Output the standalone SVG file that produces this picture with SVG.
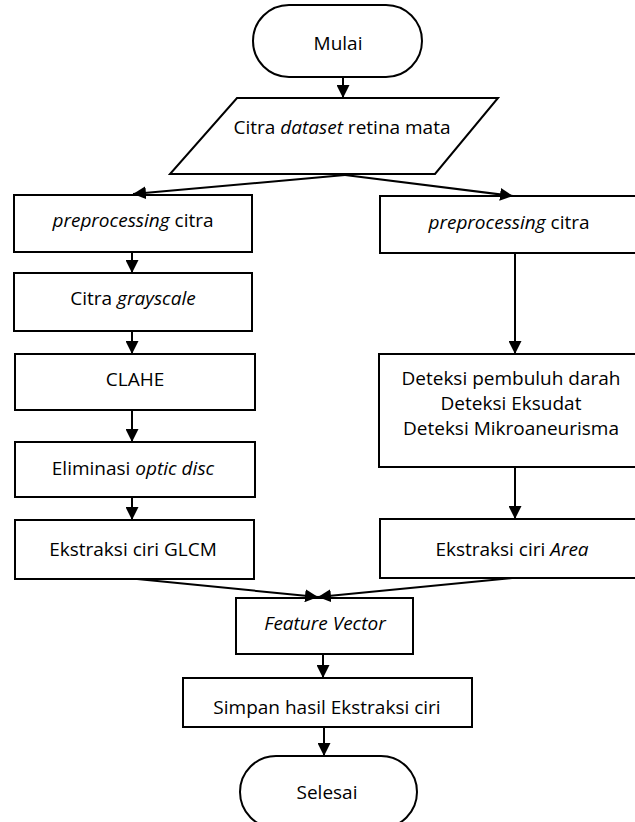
<svg xmlns="http://www.w3.org/2000/svg" width="635" height="822" viewBox="0 0 635 822">
<style>
.s{fill:#fff;stroke:#000;stroke-width:2}
.t{font-family:"Open Sans","Liberation Sans",sans-serif;font-size:19px;fill:#000;text-anchor:middle}
.i{font-style:italic}
.c{fill:none;stroke:#000;stroke-width:2;marker-end:url(#ah)}
</style>
<defs>
<marker id="ah" markerUnits="userSpaceOnUse" markerWidth="13" markerHeight="13" refX="13" refY="6.5" orient="auto">
<path d="M0,0 L13,6.5 L0,13 z" fill="#000"/>
</marker>
</defs>
<rect width="635" height="822" fill="#fff"/>
<g id="mulai"><rect class="s" x="253" y="5" width="169" height="72" rx="36"/><text class="t" x="338" y="50">Mulai</text></g>
<g id="dataset"><polygon class="s" points="237,98 498,98 435,174 170,174"/><text class="t" x="342" y="134">Citra <tspan class="i">dataset</tspan> retina mata</text></g>
<g id="l1"><rect class="s" x="14" y="195" width="238" height="57"/><text class="t" x="133" y="227"><tspan class="i">preprocessing</tspan> citra</text></g>
<g id="l2"><rect class="s" x="14" y="273" width="238" height="58"/><text class="t" x="133" y="305">Citra <tspan class="i">grayscale</tspan></text></g>
<g id="l3"><rect class="s" x="15" y="354" width="240" height="56"/><text class="t" x="135" y="386">CLAHE</text></g>
<g id="l4"><rect class="s" x="15" y="442" width="240" height="55"/><text class="t" x="133" y="475">Eliminasi <tspan class="i">optic disc</tspan></text></g>
<g id="l5"><rect class="s" x="15" y="520" width="239" height="59"/><text class="t" x="133" y="556">Ekstraksi ciri GLCM</text></g>
<g id="r1"><rect class="s" x="380" y="196" width="262" height="57"/><text class="t" x="509" y="229"><tspan class="i">preprocessing</tspan> citra</text></g>
<g id="r2"><rect class="s" x="379" y="354" width="263" height="113"/><text class="t" x="511" y="385">Deteksi pembuluh darah</text><text class="t" x="511" y="410">Deteksi Eksudat</text><text class="t" x="511" y="435">Deteksi Mikroaneurisma</text></g>
<g id="r3"><rect class="s" x="380" y="519" width="262" height="59"/><text class="t" x="512" y="556">Ekstraksi ciri <tspan class="i">Area</tspan></text></g>
<g id="fv"><rect class="s" x="236" y="598" width="177" height="56"/><text class="t i" x="325" y="630">Feature Vector</text></g>
<g id="simpan"><rect class="s" x="183" y="678" width="289" height="49"/><text class="t" x="327" y="714">Simpan hasil Ekstraksi ciri</text></g>
<g id="selesai"><rect class="s" x="240" y="756" width="177" height="72" rx="36"/><text class="t" x="327" y="799">Selesai</text></g>
<g id="connectors">
<line class="c" x1="343" y1="77" x2="343" y2="98"/>
<line class="c" x1="345" y1="175" x2="133" y2="194"/>
<line class="c" x1="345" y1="175" x2="513" y2="196"/>
<line class="c" x1="132" y1="252" x2="132" y2="273"/>
<line class="c" x1="132" y1="331" x2="132" y2="354"/>
<line class="c" x1="132" y1="410" x2="132" y2="442"/>
<line class="c" x1="132" y1="497" x2="132" y2="520"/>
<line class="c" x1="515" y1="253" x2="515" y2="354"/>
<line class="c" x1="515" y1="467" x2="515" y2="519"/>
<line class="c" x1="137" y1="579" x2="318" y2="597"/>
<line class="c" x1="512" y1="578" x2="318" y2="597"/>
<line class="c" x1="323" y1="654" x2="323" y2="678"/>
<line class="c" x1="324" y1="727" x2="324" y2="756"/>
</g>
</svg>
